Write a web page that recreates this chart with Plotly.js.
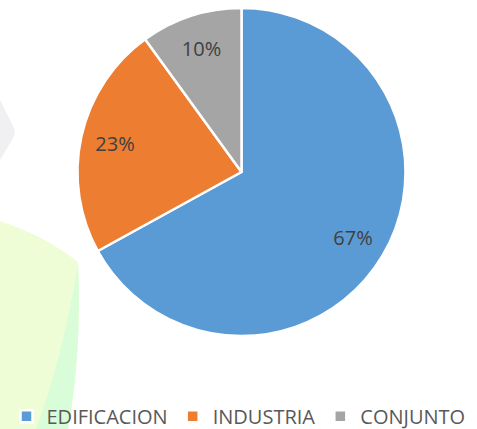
<!DOCTYPE html>
<html>
<head>
<meta charset="utf-8">
<script src="https://cdn.plot.ly/plotly-3.0.1.min.js"></script>
<style>html,body{margin:0;padding:0;background:#fff}#chart{width:477px;height:429px}</style>
</head>
<body>
<div id="chart"></div>
<script>
const labels = ["EDIFICACION", "INDUSTRIA", "CONJUNTO"];
const values = [67, 23, 10];
const colors = ["#5B9BD5", "#ED7D31", "#A5A5A5"];

const W = 477, H = 429;
const cx = 241.5, cy = 172, R = 164;
const dom = {x: [(cx - R) / W, (cx + R) / W], y: [1 - (cy + R) / H, 1 - (cy - R) / H]};

const pieTrace = {
  type: "pie", labels: labels, values: values, sort: false, direction: "clockwise", rotation: 0,
  marker: {colors: colors, line: {color: "#ffffff", width: 2.5}},
  textinfo: "none", hoverinfo: "label+percent", domain: dom, showlegend: true
};
const textTrace = {
  type: "pie", labels: labels, values: values, sort: false, direction: "clockwise", rotation: 0,
  hole: 0.58, marker: {colors: ["rgba(0,0,0,0)", "rgba(0,0,0,0)", "rgba(0,0,0,0)"], line: {width: 0}},
  textinfo: "percent", texttemplate: "%{percent:.0%}", textposition: "inside", insidetextorientation: "horizontal",
  textfont: {family: "Open Sans, sans-serif", size: 20, color: "#404040"},
  hoverinfo: "skip", domain: dom, showlegend: false
};

function P(px, py) { return (px / W).toFixed(4) + "," + (1 - py / H).toFixed(4); }
const shapes = [
  {type: "path", xref: "paper", yref: "paper", layer: "below", line: {width: 0}, fillcolor: "#effdd6",
   path: "M " + P(0, 221) + " Q " + P(45, 236) + " " + P(78, 262) + " Q " + P(82, 350) + " " + P(68, 429) + " L " + P(0, 429) + " Z"},
  {type: "path", xref: "paper", yref: "paper", layer: "below", line: {width: 0}, fillcolor: "#d8fdd8",
   path: "M " + P(78, 265) + " Q " + P(82, 350) + " " + P(68, 429) + " L " + P(36, 429) + " Q " + P(62, 360) + " " + P(78, 265) + " Z"},
  {type: "path", xref: "paper", yref: "paper", layer: "below", line: {width: 0}, fillcolor: "#f0f0f2",
   path: "M " + P(0, 100) + " L " + P(13, 126) + " Q " + P(17, 133) + " " + P(12, 140) + " L " + P(0, 160) + " Z"}
];

const layout = {
  width: W, height: H, margin: {l: 0, r: 0, t: 0, b: 0, autoexpand: false},
  paper_bgcolor: "#ffffff", plot_bgcolor: "#ffffff",
  shapes: shapes,
  showlegend: true,
  legend: {orientation: "h", x: 0.5, xanchor: "center", y: -0.016, yanchor: "bottom", itemwidth: 30,
           font: {family: "Open Sans, sans-serif", size: 20, color: "#595959"}, bgcolor: "rgba(0,0,0,0)", traceorder: "normal"}
};
Plotly.newPlot("chart", [pieTrace, textTrace], layout, {displayModeBar: false, staticPlot: true});
</script>
</body>
</html>
